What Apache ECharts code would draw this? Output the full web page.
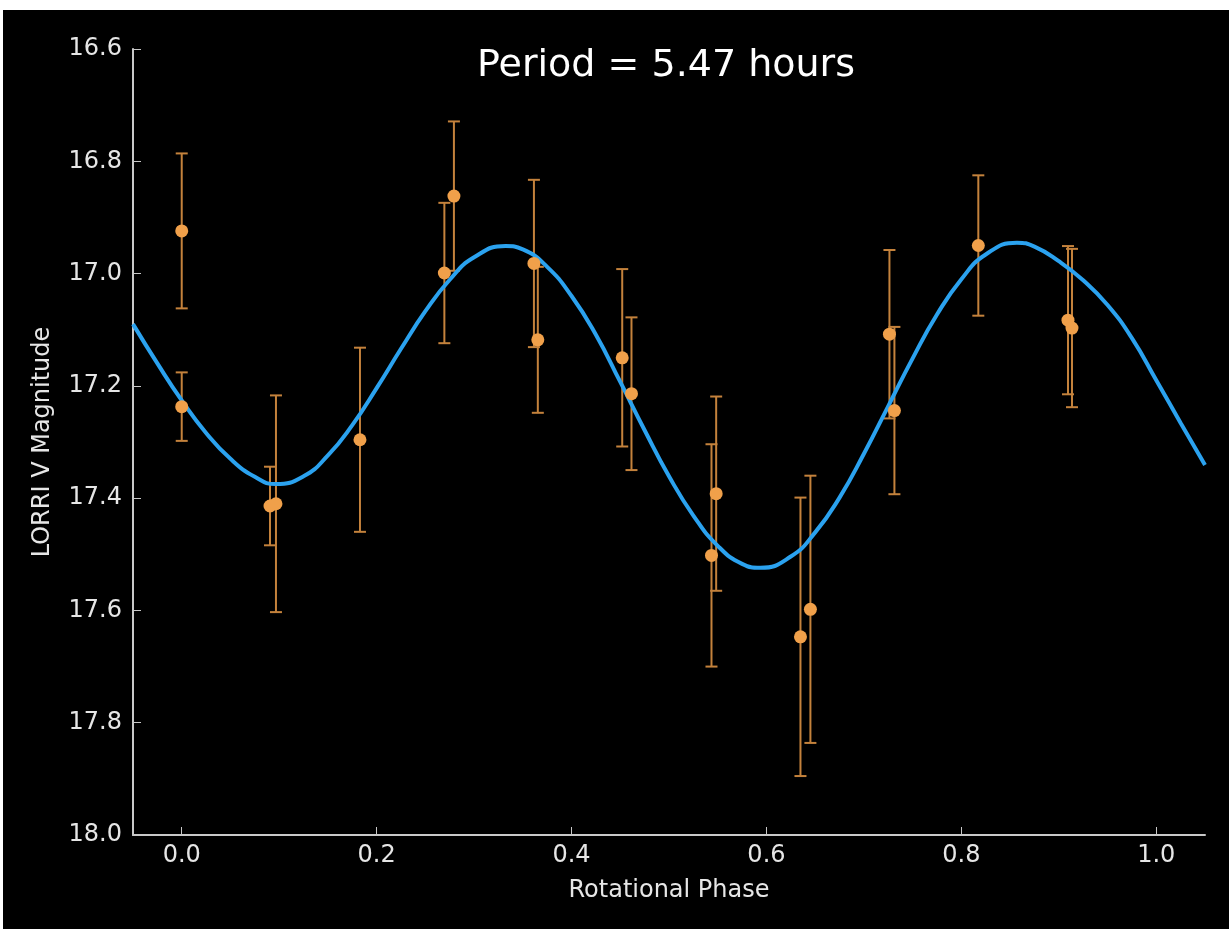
<!DOCTYPE html>
<html>
<head>
<meta charset="utf-8">
<script src="https://cdn.jsdelivr.net/npm/echarts@6/dist/echarts.min.js"></script>
<style>
  html, body { margin: 0; padding: 0; background: #fff; }
  #chart { position: absolute; left: 3px; top: 10px; width: 1226px; height: 919px; background: #000; }
</style>
</head>
<body>
<div id="chart"></div>
<script>
// measured points (rotational phase, LORRI V mag, 1-sigma error)
const phase = [0.000, 0.000, 0.0906, 0.0967, 0.1829, 0.2695, 0.2793, 0.3614, 0.3654, 0.4520,
               0.4615, 0.5436, 0.5484, 0.6349, 0.6451, 0.7262, 0.7313, 0.8174, 0.9094, 0.9135]
const mag = [16.924, 17.237, 17.414, 17.410, 17.296, 16.999, 16.862, 16.982, 17.118, 17.150,
             17.214, 17.502, 17.392, 17.647, 17.598, 17.108, 17.244, 16.950, 17.083, 17.097]
const magErr = [0.138, 0.061, 0.070, 0.193, 0.164, 0.125, 0.133, 0.149, 0.130, 0.158,
                0.136, 0.198, 0.173, 0.248, 0.238, 0.150, 0.149, 0.125, 0.132, 0.141]

// fitted light curve
const fitPhase = [-0.05, -0.025, 0.0, 0.025, 0.05, 0.075, 0.0964, 0.125, 0.15, 0.175,
                  0.2, 0.225, 0.25, 0.275, 0.3, 0.3323, 0.35, 0.375, 0.4, 0.425,
                  0.45, 0.475, 0.5, 0.525, 0.55, 0.575, 0.5938, 0.625, 0.65, 0.675,
                  0.7, 0.725, 0.75, 0.775, 0.8, 0.825, 0.857, 0.875, 0.9, 0.925,
                  0.95, 0.975, 1.0, 1.025, 1.05]
const fitMag = [17.090, 17.160, 17.226, 17.284, 17.330, 17.362, 17.375, 17.361, 17.324, 17.270,
                17.204, 17.134, 17.067, 17.011, 16.971, 16.951, 16.957, 16.988, 17.040, 17.109,
                17.193, 17.279, 17.361, 17.431, 17.485, 17.517, 17.524, 17.504, 17.461, 17.399,
                17.321, 17.236, 17.151, 17.073, 17.010, 16.966, 16.945, 16.952, 16.978, 17.012,
                17.056, 17.115, 17.190, 17.266, 17.341]

const xTicks = [0.0, 0.2, 0.4, 0.6, 0.8, 1.0]

const font = 'DejaVu Sans'
const axisColor = '#c8c8c8'

const chart = echarts.init(document.getElementById('chart'), null, { renderer: 'canvas' })

const points = phase.map((p, i) => [p, mag[i], magErr[i]])
const fit = fitPhase.map((p, i) => [p, fitMag[i]])

const option = {
  backgroundColor: '#000',
  animation: false,
  title: {
    text: 'Period = 5.47 hours',
    left: 474,
    top: 37,
    padding: 0,
    textStyle: { color: '#fff', fontSize: 38, fontWeight: 'normal', fontFamily: font }
  },
  grid: { left: 130, right: 24, top: 39, bottom: 94 },
  xAxis: {
    type: 'value',
    min: -0.05,
    max: 1.05,
    name: 'Rotational Phase',
    nameLocation: 'middle',
    nameGap: 44,
    nameTextStyle: { color: '#e6e6e6', fontSize: 24, fontFamily: font },
    axisLine: { show: true, onZero: false, lineStyle: { color: axisColor, width: 2 } },
    axisTick: { show: true, inside: true, length: 8, customValues: xTicks, lineStyle: { color: axisColor, width: 1 } },
    axisLabel: {
      customValues: xTicks,
      margin: 9,
      color: '#e6e6e6', fontSize: 24, fontFamily: font,
      formatter: v => v.toFixed(1)
    },
    splitLine: { show: false }
  },
  yAxis: {
    type: 'value',
    inverse: true,
    min: 16.6,
    max: 18.0,
    interval: 0.2,
    name: 'LORRI V Magnitude',
    nameLocation: 'middle',
    nameGap: 78,
    nameTextStyle: { color: '#e6e6e6', fontSize: 24, fontFamily: font },
    axisLine: { show: true, onZero: false, lineStyle: { color: axisColor, width: 2 } },
    axisTick: { show: true, inside: true, length: 8, lineStyle: { color: axisColor, width: 1 } },
    axisLabel: {
      margin: 11,
      color: '#e6e6e6', fontSize: 24, fontFamily: font,
      formatter: v => v.toFixed(1)
    },
    splitLine: { show: false }
  },
  series: [
    {
      type: 'custom',
      z: 1,
      data: points,
      renderItem: (params, api) => {
        const x = api.value(0)
        const y = api.value(1)
        const e = api.value(2)
        const top = api.coord([x, y - e])
        const bot = api.coord([x, y + e])
        const cap = 6
        const style = { stroke: '#c4823c', lineWidth: 2 }
        return {
          type: 'group',
          children: [
            { type: 'line', shape: { x1: top[0], y1: top[1], x2: bot[0], y2: bot[1] }, style },
            { type: 'line', shape: { x1: top[0] - cap, y1: top[1], x2: top[0] + cap, y2: top[1] }, style },
            { type: 'line', shape: { x1: bot[0] - cap, y1: bot[1], x2: bot[0] + cap, y2: bot[1] }, style }
          ]
        }
      }
    },
    {
      type: 'line',
      z: 2,
      data: fit,
      smooth: 0.5,
      showSymbol: false,
      lineStyle: { color: '#2ba2ef', width: 4 }
    },
    {
      type: 'scatter',
      z: 3,
      data: points.map(d => [d[0], d[1]]),
      symbol: 'circle',
      symbolSize: 13,
      itemStyle: { color: '#f0a04a', opacity: 1 }
    }
  ]
}

chart.setOption(option)
</script>
</body>
</html>
